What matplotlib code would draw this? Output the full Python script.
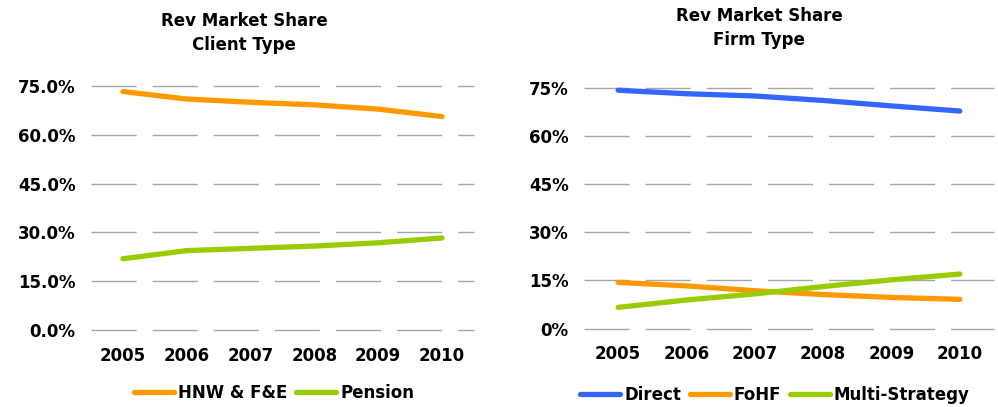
import matplotlib
matplotlib.use('Agg')
from matplotlib import pyplot as plt
from matplotlib.ticker import FuncFormatter

years = ['2005', '2006', '2007', '2008', '2009', '2010']

client_labels = ['HNW & F&E', 'Pension']
hnw = [73.3, 71.0, 70.0, 69.2, 67.9, 65.6]
pension = [21.9, 24.4, 25.1, 25.8, 26.8, 28.3]

firm_labels = ['Direct', 'FoHF', 'Multi-Strategy']
direct = [74.4, 73.3, 72.6, 71.2, 69.5, 67.9]
fohf = [14.4, 13.3, 11.8, 10.6, 9.7, 9.1]
multi = [6.6, 8.9, 10.8, 13.1, 15.2, 17.0]

y_ticks = [0, 15, 30, 45, 60, 75]

ORANGE = '#ff9900'
GREEN = '#99cc00'
BLUE = '#3366ff'
GRID = '#a6a6a6'
LW = 3.8

plt.rcParams['font.family'] = ['DejaVu Sans']
plt.rcParams['font.weight'] = 'bold'

W, H = 998, 407
fig = plt.figure(figsize=(W / 100, H / 100), dpi=100)


def px_axes(x0, x1, y_top, y_bottom):
    return fig.add_axes([x0 / W, 1 - y_bottom / H, (x1 - x0) / W, (y_bottom - y_top) / H])


def style(ax, fmt):
    ax.set_xlim(-0.5, len(years) - 0.5)
    ax.set_ylim(0, 75)
    ax.set_yticks(y_ticks)
    ax.yaxis.set_major_formatter(FuncFormatter(fmt))
    ax.set_xticks(range(len(years)))
    ax.set_xticklabels(years)
    for spine in ax.spines.values():
        spine.set_visible(False)
    ax.tick_params(axis='both', length=0, labelsize=12)
    ax.tick_params(axis='y', pad=11)
    ax.tick_params(axis='x', pad=12)
    for t in ax.get_xticklabels() + ax.get_yticklabels():
        t.set_fontweight('bold')
    for y in y_ticks:
        ax.axhline(y, color=GRID, lw=1, dashes=(32.5, 11.5), zorder=1, clip_on=False)


def draw_series(ax, series, colors, labels):
    x = range(len(years))
    for vals, c, lab in zip(series, colors, labels):
        ax.plot(x, vals, color=c, lw=LW, solid_capstyle='round', solid_joinstyle='round',
                label=lab, clip_on=False, zorder=3)


# left chart: client type
ax1 = px_axes(91, 474, 86, 330)
draw_series(ax1, [hnw, pension], [ORANGE, GREEN], client_labels)
style(ax1, lambda v, p: f'{v:.1f}%')
fig.text(244 / W, 1 - 33 / H, 'Rev Market Share\nClient Type', ha='center', va='center',
         fontsize=12, fontweight='bold', linespacing=1.45)
fig.legend(*ax1.get_legend_handles_labels(), loc='center', bbox_to_anchor=(274 / W, 1 - 393 / H),
           ncol=2, frameon=False, handlelength=2.4, handletextpad=0.25,
           columnspacing=0.5, prop={'weight': 'bold', 'size': 12})

# right chart: firm type
ax2 = px_axes(584, 994, 88.3, 328.5)
draw_series(ax2, [direct, fohf, multi], [BLUE, ORANGE, GREEN], firm_labels)
style(ax2, lambda v, p: f'{v:.0f}%')
fig.text(759 / W, 1 - 28 / H, 'Rev Market Share\nFirm Type', ha='center', va='center',
         fontsize=12, fontweight='bold', linespacing=1.45)
fig.legend(*ax2.get_legend_handles_labels(), loc='center', bbox_to_anchor=(775 / W, 1 - 395 / H),
           ncol=3, frameon=False, handlelength=2.4, handletextpad=0.25,
           columnspacing=0.5, prop={'weight': 'bold', 'size': 12})

fig.savefig('out.png', dpi=100)
